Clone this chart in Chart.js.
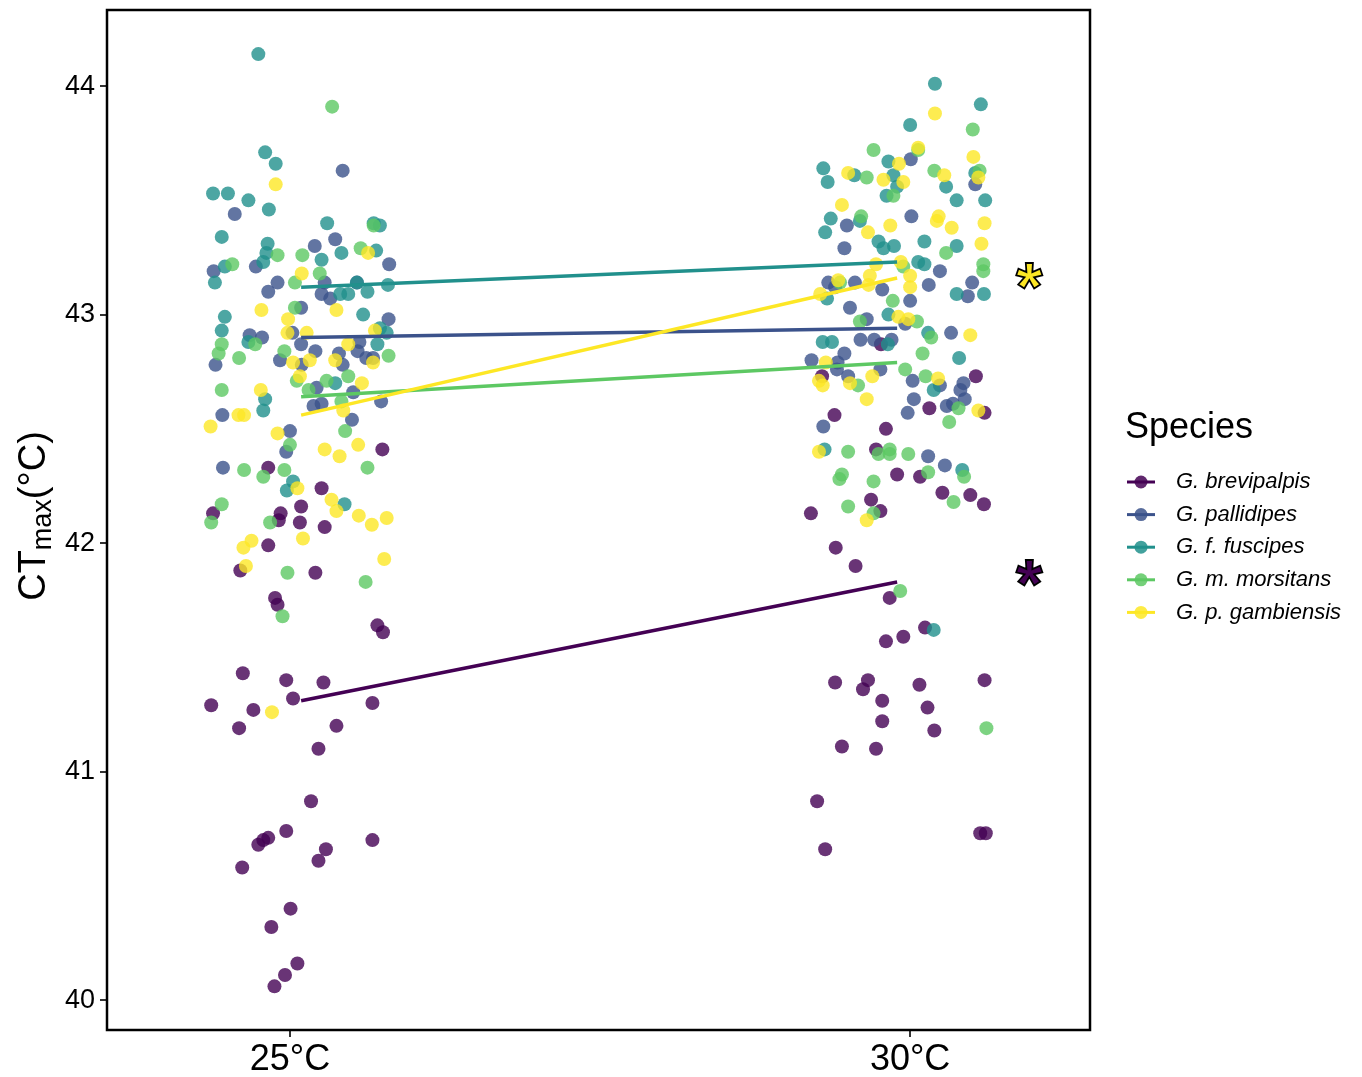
<!DOCTYPE html>
<html>
<head>
<meta charset="utf-8">
<script src="https://cdn.jsdelivr.net/npm/chart.js@4.4.0/dist/chart.umd.min.js"></script>
<style>
  body { margin: 0; background: #fff; }
  canvas { display: block; }
</style>
</head>
<body>
<canvas id="ctmax" width="1362" height="1077"></canvas>
<script>
// CTmax per fly, [jittered position, CTmax °C], one list per species and rearing temperature
const brevipalpis25 = [
  [1.149,42.41],[0.965,42.33],[1.051,42.24],[1.018,42.16],[0.876,42.13],[0.985,42.13],[0.982,42.10],[1.016,42.09],
  [1.056,42.07],[0.965,41.99],[0.920,41.88],[1.041,41.87],[0.976,41.76],[0.980,41.73],[1.141,41.64],[1.150,41.61],
  [0.924,41.43],[0.994,41.40],[1.054,41.39],[1.005,41.32],[0.873,41.29],[0.941,41.27],[1.133,41.30],[0.918,41.19],
  [1.075,41.20],[1.046,41.10],[1.034,40.87],[0.965,40.71],[0.957,40.70],[0.949,40.68],[0.994,40.74],[1.133,40.70],
  [1.058,40.66],[1.046,40.61],[0.923,40.58],[1.001,40.40],[0.970,40.32],[1.012,40.16],[0.992,40.11],[0.975,40.06]
];
const pallidipes25 = [
  [1.085,43.63],[0.911,43.44],[1.073,43.33],[1.040,43.30],[1.160,43.22],[0.877,43.19],[0.945,43.21],[0.980,43.14],
  [0.965,43.10],[1.056,43.14],[1.108,43.14],[1.051,43.09],[1.065,43.07],[1.018,43.03],[1.159,42.98],[0.935,42.91],
  [0.955,42.90],[1.004,42.92],[1.018,42.87],[1.112,42.88],[0.880,42.78],[0.984,42.80],[1.041,42.84],[1.079,42.83],
  [1.085,42.78],[1.109,42.84],[1.123,42.81],[1.134,42.81],[1.019,42.78],[1.043,42.68],[1.102,42.66],[1.038,42.60],
  [1.051,42.61],[1.147,42.62],[0.891,42.56],[1.100,42.54],[1.000,42.49],[0.994,42.40],[0.892,42.33]
];
const fuscipes25 = [
  [0.949,44.14],[0.960,43.71],[0.977,43.66],[0.876,43.53],[0.900,43.53],[0.933,43.50],[0.966,43.46],[1.060,43.40],
  [1.135,43.40],[1.145,43.39],[0.890,43.34],[0.964,43.31],[0.962,43.27],[1.051,43.24],[1.083,43.27],[1.139,43.28],
  [0.895,43.21],[0.957,43.23],[0.879,43.14],[1.108,43.14],[1.158,43.13],[1.081,43.09],[1.094,43.09],[1.125,43.10],
  [1.118,43.00],[0.895,42.99],[0.890,42.93],[0.933,42.88],[1.145,42.94],[1.156,42.92],[1.141,42.87],[1.073,42.70],
  [0.960,42.63],[0.957,42.58],[1.005,42.27],[0.995,42.23],[1.088,42.17]
];
const morsitans25 = [
  [1.068,43.91],[0.980,43.26],[1.020,43.26],[1.114,43.29],[0.907,43.22],[1.048,43.18],[1.008,43.14],[1.135,43.39],
  [1.008,43.03],[0.890,42.87],[0.944,42.87],[0.885,42.83],[0.918,42.81],[0.991,42.84],[1.159,42.82],[1.011,42.71],
  [1.094,42.73],[1.059,42.71],[0.890,42.67],[1.030,42.67],[1.083,42.62],[1.089,42.49],[1.000,42.43],[0.926,42.32],
  [0.957,42.29],[0.991,42.32],[1.125,42.33],[0.890,42.17],[0.873,42.09],[0.968,42.09],[0.996,41.87],[1.122,41.83],
  [0.988,41.68]
];
const gambiensis25 = [
  [0.977,43.57],[1.126,43.27],[1.019,43.18],[0.954,43.02],[1.075,43.02],[0.997,42.98],[0.996,42.92],[1.027,42.92],
  [1.137,42.93],[1.094,42.87],[1.073,42.80],[1.134,42.79],[1.005,42.79],[1.032,42.80],[1.016,42.73],[1.116,42.70],
  [0.953,42.67],[1.086,42.58],[0.917,42.56],[0.926,42.56],[0.872,42.51],[0.980,42.48],[1.056,42.41],[1.080,42.38],
  [1.110,42.43],[1.012,42.24],[1.067,42.19],[1.075,42.14],[1.111,42.12],[1.132,42.08],[1.156,42.11],[0.938,42.01],
  [0.925,41.98],[1.021,42.02],[1.152,41.93],[0.929,41.90],[0.971,41.26]
];
const brevipalpis30 = [
  [1.953,42.87],[1.858,42.73],[2.106,42.73],[2.031,42.59],[2.120,42.57],[1.878,42.56],[1.961,42.50],[1.945,42.41],
  [1.979,42.30],[2.016,42.29],[2.052,42.22],[2.097,42.21],[2.119,42.17],[1.840,42.13],[1.937,42.19],[1.952,42.14],
  [1.880,41.98],[1.912,41.90],[1.967,41.76],[2.024,41.63],[1.989,41.59],[1.961,41.57],[1.879,41.39],[1.932,41.40],
  [1.924,41.36],[2.015,41.38],[2.120,41.40],[1.955,41.31],[2.028,41.28],[1.955,41.22],[2.039,41.18],[1.890,41.11],
  [1.945,41.10],[1.850,40.87],[2.113,40.73],[2.122,40.73],[1.863,40.66]
];
const pallidipes30 = [
  [2.001,43.68],[2.105,43.57],[1.898,43.39],[2.002,43.43],[1.894,43.29],[2.048,43.19],[1.868,43.14],[1.879,43.12],
  [1.911,43.14],[1.955,43.11],[2.030,43.13],[2.100,43.14],[2.093,43.08],[2.000,43.06],[1.903,43.03],[1.930,42.98],
  [1.992,42.96],[2.066,42.92],[1.920,42.89],[1.942,42.89],[1.970,42.89],[1.841,42.80],[1.894,42.83],[1.883,42.79],
  [1.882,42.76],[1.900,42.73],[1.952,42.76],[2.004,42.71],[2.048,42.69],[2.086,42.70],[2.081,42.67],[2.088,42.63],
  [2.059,42.60],[2.069,42.61],[2.006,42.63],[1.996,42.57],[1.860,42.51],[2.029,42.38],[2.056,42.34]
];
const fuscipes30 = [
  [2.040,44.01],[2.114,43.92],[2.000,43.83],[1.965,43.67],[1.860,43.64],[1.867,43.58],[1.910,43.61],[1.973,43.61],
  [1.979,43.56],[1.962,43.52],[2.058,43.56],[2.105,43.62],[2.075,43.50],[2.121,43.50],[1.872,43.42],[1.863,43.36],
  [1.919,43.41],[1.949,43.32],[1.957,43.29],[1.974,43.30],[2.023,43.32],[2.075,43.30],[2.013,43.23],[2.023,43.22],
  [2.075,43.09],[2.119,43.09],[1.866,43.07],[1.965,43.00],[2.029,42.92],[1.859,42.88],[1.874,42.88],[1.964,42.87],
  [2.079,42.81],[2.038,42.67],[1.862,42.41],[2.084,42.32],[2.038,41.62]
];
const morsitans30 = [
  [2.101,43.81],[1.941,43.72],[2.013,43.72],[1.930,43.60],[1.973,43.52],[2.039,43.63],[2.112,43.63],[1.921,43.43],
  [2.058,43.27],[2.118,43.22],[2.118,43.19],[1.887,43.14],[1.972,43.06],[1.919,42.97],[2.011,42.97],[1.989,43.21],
  [2.034,42.90],[2.020,42.83],[1.992,42.76],[1.916,42.69],[2.025,42.73],[2.078,42.59],[2.063,42.53],[1.900,42.40],
  [1.949,42.39],[1.967,42.41],[1.967,42.39],[1.997,42.39],[2.087,42.29],[1.890,42.30],[1.886,42.28],[1.941,42.27],
  [2.029,42.31],[2.070,42.18],[1.900,42.16],[1.941,42.13],[1.984,41.79],[2.123,41.19]
];
const gambiensis30 = [
  [2.040,43.88],[2.013,43.73],[1.982,43.66],[1.900,43.62],[1.957,43.59],[1.989,43.58],[2.055,43.61],[2.102,43.69],
  [2.110,43.60],[1.890,43.48],[1.932,43.36],[1.968,43.39],[2.046,43.43],[2.043,43.41],[2.067,43.38],[2.120,43.40],
  [2.115,43.31],[1.985,43.23],[1.945,43.22],[1.935,43.17],[1.933,43.13],[2.000,43.17],[2.000,43.12],[1.855,43.09],
  [1.981,42.99],[1.997,42.98],[1.884,43.15],[2.097,42.91],[1.864,42.79],[1.853,42.71],[1.859,42.69],[1.903,42.70],
  [1.939,42.73],[2.045,42.72],[1.930,42.63],[2.110,42.58],[1.853,42.40],[1.930,42.10]
];

const speciesNames = ['G. brevipalpis', 'G. pallidipes', 'G. f. fuscipes', 'G. m. morsitans', 'G. p. gambiensis'];
const speciesColors = ['#440154', '#3B528B', '#21908C', '#5DC863', '#FDE725'];
const tempLabels = ['25°C', '30°C'];
const tempPositions = [1, 2];
const yTicks = [40, 41, 42, 43, 44];

// species means at each temperature
const mean25 = [41.31, 42.90, 43.12, 42.64, 42.56];
const mean30 = [41.83, 42.94, 43.23, 42.79, 43.16];
const meanX = [1.018, 1.979];

// significance stars (species index into the lists above)
const starX = [2.192, 2.192];
const starY = [43.17, 41.87];
const starSpecies = [4, 0];

const FONT = '"Liberation Sans", Arial, sans-serif';

function rgba(hex, a) {
  const n = parseInt(hex.slice(1), 16);
  return 'rgba(' + (n >> 16) + ',' + ((n >> 8) & 255) + ',' + (n & 255) + ',' + a + ')';
}

const pointSets = [
  [brevipalpis25, brevipalpis30],
  [pallidipes25, pallidipes30],
  [fuscipes25, fuscipes30],
  [morsitans25, morsitans30],
  [gambiensis25, gambiensis30]
];

const datasets = [];
pointSets.forEach(function (pair, i) {
  datasets.push({
    type: 'scatter',
    label: speciesNames[i],
    data: pair[0].concat(pair[1]).map(p => ({ x: p[0], y: p[1] })),
    backgroundColor: rgba(speciesColors[i], 0.8),
    borderWidth: 0,
    pointRadius: 7,
    pointHoverRadius: 7,
    order: 20 - i
  });
});
speciesNames.forEach(function (name, i) {
  datasets.push({
    type: 'line',
    label: name + ' mean',
    data: [{ x: meanX[0], y: mean25[i] }, { x: meanX[1], y: mean30[i] }],
    borderColor: speciesColors[i],
    borderWidth: 3.5,
    pointRadius: 0,
    fill: false,
    order: 5 - i
  });
});

// no extra room for edge tick labels, the panel fills the box
function noEdgePadding(s) {
  s.paddingTop = 0;
  s.paddingBottom = 0;
  s.paddingLeft = 0;
  s.paddingRight = 0;
}

// frame, y title with subscript, legend and stars
const decor = {
  id: 'decor',
  afterDraw(chart) {
    const ctx = chart.ctx;
    const a = chart.chartArea;
    const xs = chart.scales.x, ys = chart.scales.y;

    ctx.save();
    ctx.strokeStyle = '#000';
    ctx.lineWidth = 2.5;
    ctx.strokeRect(a.left, a.top, a.right - a.left, a.bottom - a.top);

    // significance stars
    ctx.font = 'bold 68px ' + FONT;
    ctx.textAlign = 'center';
    ctx.textBaseline = 'alphabetic';
    const m = ctx.measureText('*');
    starX.forEach(function (sx, i) {
      const px = xs.getPixelForValue(sx);
      const py = ys.getPixelForValue(starY[i]) + (m.actualBoundingBoxAscent - m.actualBoundingBoxDescent) / 2;
      ctx.fillStyle = speciesColors[starSpecies[i]];
      ctx.fillText('*', px, py);
      ctx.lineWidth = 1.8;
      ctx.strokeStyle = '#000';
      ctx.strokeText('*', px, py);
    });
    ctx.restore();

    // y axis title: CT_max(°C)
    ctx.save();
    ctx.translate(45, 516);
    ctx.rotate(-Math.PI / 2);
    ctx.fillStyle = '#000';
    ctx.textBaseline = 'alphabetic';
    const big = '38px ' + FONT, small = '27px ' + FONT;
    ctx.font = big;
    const wCT = ctx.measureText('CT').width;
    const wTail = ctx.measureText('(°C)').width;
    ctx.font = small;
    const wMax = ctx.measureText('max').width;
    let x0 = -(wCT + wMax + wTail) / 2;
    ctx.font = big;
    ctx.fillText('CT', x0, 0);
    ctx.font = small;
    ctx.fillText('max', x0 + wCT, 6);
    ctx.font = big;
    ctx.fillText('(°C)', x0 + wCT + wMax, 0);
    ctx.restore();

    // legend
    ctx.save();
    ctx.fillStyle = '#000';
    ctx.font = '36px ' + FONT;
    ctx.textBaseline = 'alphabetic';
    ctx.fillText('Species', 1125, 438);
    speciesNames.forEach(function (name, i) {
      const y = 482 + i * 32.6;
      ctx.strokeStyle = speciesColors[i];
      ctx.lineWidth = 3;
      ctx.beginPath();
      ctx.moveTo(1127, y);
      ctx.lineTo(1155, y);
      ctx.stroke();
      ctx.fillStyle = rgba(speciesColors[i], 0.85);
      ctx.beginPath();
      ctx.arc(1141, y, 6.5, 0, Math.PI * 2);
      ctx.fill();
      ctx.fillStyle = '#000';
      ctx.font = 'italic 22px ' + FONT;
      ctx.textBaseline = 'middle';
      ctx.fillText(name, 1176, y);
    });
    ctx.restore();
  }
};

new Chart(document.getElementById('ctmax'), {
  type: 'scatter',
  data: { datasets: datasets },
  options: {
    responsive: false,
    animation: false,
    layout: { padding: { top: 10, right: 272, left: 0, bottom: 0 } },
    plugins: {
      legend: { display: false },
      tooltip: { enabled: false }
    },
    scales: {
      x: {
        type: 'linear',
        min: 0.705,
        max: 2.29,
        afterBuildTicks: function (s) { s.ticks = tempPositions.map(v => ({ value: v })); },
        afterFit: function (s) { s.height = 47; noEdgePadding(s); },
        ticks: {
          callback: v => tempLabels[tempPositions.indexOf(v)],
          font: { family: FONT, size: 36 },
          color: '#000',
          padding: 1,
          maxRotation: 0,
          autoSkip: false
        },
        grid: { drawOnChartArea: false, tickLength: 7, color: '#333', lineWidth: 2 },
        border: { display: false }
      },
      y: {
        type: 'linear',
        min: 39.869,
        max: 44.333,
        afterBuildTicks: function (s) { s.ticks = yTicks.map(v => ({ value: v })); },
        afterFit: function (s) { s.width = 107; noEdgePadding(s); },
        ticks: {
          callback: v => String(v),
          font: { family: FONT, size: 27 },
          color: '#000',
          padding: 5
        },
        grid: { drawOnChartArea: false, tickLength: 7, color: '#333', lineWidth: 2 },
        border: { display: false }
      }
    }
  },
  plugins: [decor]
});
</script>
</body>
</html>
